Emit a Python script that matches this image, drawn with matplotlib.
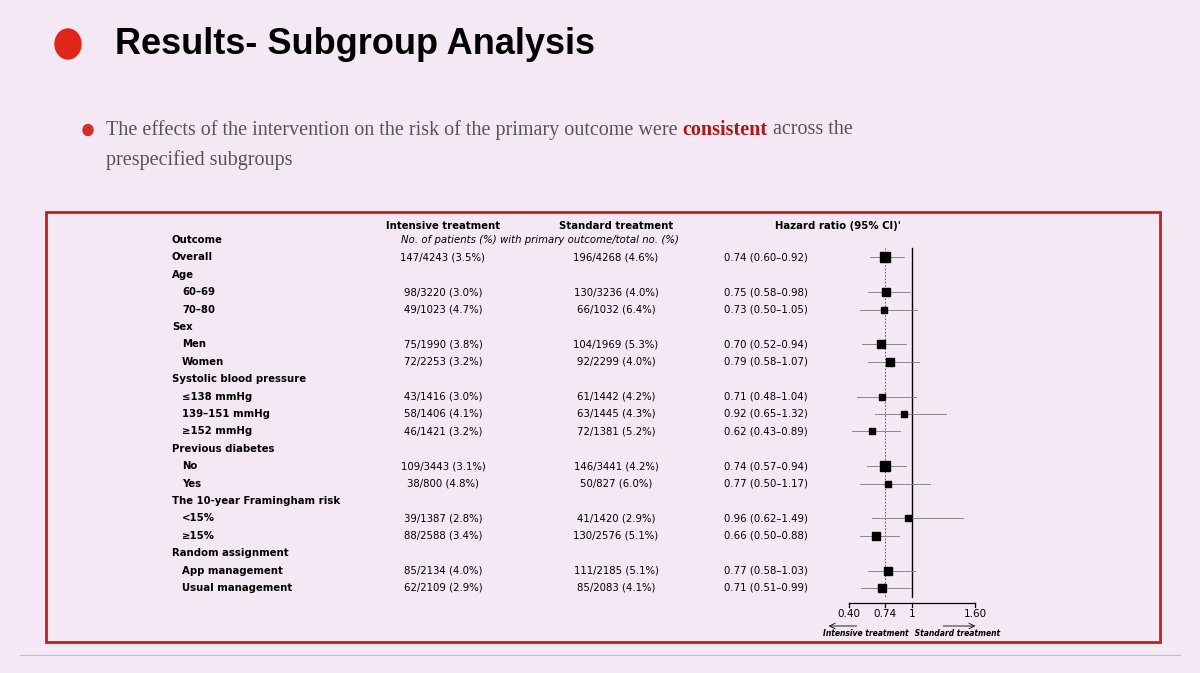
import matplotlib.pyplot as plt
import numpy as np
from matplotlib.patches import Rectangle, Ellipse

labels = ["Outcome","Overall","Age","60–69","70–80","Sex","Men","Women",
          "Systolic blood pressure","≤138 mmHg","139–151 mmHg","≥152 mmHg",
          "Previous diabetes","No","Yes","The 10-year Framingham risk","<15%","≥15%",
          "Random assignment","App management","Usual management"]
indent = [0,0,0,1,1,0,1,1,0,1,1,1,0,1,1,0,1,1,0,1,1]
intensive = ["","147/4243 (3.5%)","","98/3220 (3.0%)","49/1023 (4.7%)","","75/1990 (3.8%)","72/2253 (3.2%)",
             "","43/1416 (3.0%)","58/1406 (4.1%)","46/1421 (3.2%)","","109/3443 (3.1%)","38/800 (4.8%)",
             "","39/1387 (2.8%)","88/2588 (3.4%)","","85/2134 (4.0%)","62/2109 (2.9%)"]
standard = ["","196/4268 (4.6%)","","130/3236 (4.0%)","66/1032 (6.4%)","","104/1969 (5.3%)","92/2299 (4.0%)",
            "","61/1442 (4.2%)","63/1445 (4.3%)","72/1381 (5.2%)","","146/3441 (4.2%)","50/827 (6.0%)",
            "","41/1420 (2.9%)","130/2576 (5.1%)","","111/2185 (5.1%)","85/2083 (4.1%)"]
hr =  [None,0.74,None,0.75,0.73,None,0.70,0.79,None,0.71,0.92,0.62,None,0.74,0.77,None,0.96,0.66,None,0.77,0.71]
lo =  [None,0.60,None,0.58,0.50,None,0.52,0.58,None,0.48,0.65,0.43,None,0.57,0.50,None,0.62,0.50,None,0.58,0.51]
hi =  [None,0.92,None,0.98,1.05,None,0.94,1.07,None,1.04,1.32,0.89,None,0.94,1.17,None,1.49,0.88,None,1.03,0.99]
events = [None,343,None,228,115,None,179,164,None,104,121,118,None,255,88,None,80,218,None,196,147]

W, H = 1200, 673
fig = plt.figure(figsize=(12, 6.73), dpi=100)
fig.patch.set_facecolor('#f4e8f4')
ax = fig.add_axes([0,0,1,1]); ax.set_xlim(0,W); ax.set_ylim(H,0); ax.axis('off')
ax.add_patch(Ellipse((68,44),26,30,color='#e0261a'))
ax.text(115,44,"Results- Subgroup Analysis",fontsize=26,fontweight='bold',va='center',family='Liberation Sans')
ax.add_patch(Ellipse((88,130),10,11,color='#d03028'))

fig.canvas.draw()
r = fig.canvas.get_renderer()
x = 106
for txt, col, fw in [("The effects of the intervention on the risk of the primary outcome were ", '#555555', 'normal'),
                     ("consistent", '#b01515', 'bold'),
                     (" across the", '#555555', 'normal')]:
    t = ax.text(x,130,txt,fontsize=14.5,family='Liberation Serif',color=col,fontweight=fw,va='center')
    bb = t.get_window_extent(renderer=r)
    x += bb.width
ax.text(106,160,"prespecified subgroups",fontsize=14.5,family='Liberation Serif',color='#555555',va='center')
ax.add_patch(Rectangle((46,212),1114,430,fill=False,edgecolor='#c0201a',lw=2))
ax.plot([20,1180],[655,655],color='#c8b8c8',lw=0.8)

fs = 7.3
ax.text(443,226,"Intensive treatment",fontsize=fs,fontweight='bold',ha='center',va='center')
ax.text(616,226,"Standard treatment",fontsize=fs,fontweight='bold',ha='center',va='center')
ax.text(838,226,"Hazard ratio (95% CI)'",fontsize=fs,fontweight='bold',ha='center',va='center')
ax.text(540,240,"No. of patients (%) with primary outcome/total no. (%)",fontsize=fs,style='italic',ha='center',va='center')

y0, dy = 240, 17.4
ys = [y0 + i*dy for i in range(len(labels))]
for i, lab in enumerate(labels):
    y = ys[i]
    ax.text(172+10*indent[i], y, lab, fontsize=fs, fontweight='bold', va='center')
    ax.text(443, y, intensive[i], fontsize=fs, ha='center', va='center')
    ax.text(616, y, standard[i], fontsize=fs, ha='center', va='center')
    if hr[i] is not None:
        ax.text(724, y, f"{hr[i]:.2f} ({lo[i]:.2f}–{hi[i]:.2f})", fontsize=fs, va='center')

fx0, fx1 = 820, 1020
fa = fig.add_axes([fx0/W, 0, (fx1-fx0)/W, 1])
fa.set_ylim(H, 0)
v0 = 1 - 92/105; v1 = 1 + 108/105
fa.set_xlim(v0, v1)
fa.axis('off')
fa.plot([1,1],[248,597],color='black',lw=1)
fa.plot([0.74,0.74],[248,597],color='#444444',lw=0.6,ls=(0,(2,2)))
for i in range(len(labels)):
    if hr[i] is None: continue
    fa.plot([lo[i],hi[i]],[ys[i]]*2,color='#777777',lw=0.6)
    s = np.sqrt(events[i])*0.42
    fa.plot(hr[i],ys[i],marker='s',color='black',ms=s,mec='black')
fa.plot([0.40,1.60],[603,603],color='black',lw=0.9)
for t in [0.40,0.74,1,1.60]:
    fa.plot([t,t],[603,607],color='black',lw=0.9)
for t, s in [(0.40,"0.40"),(0.74,"0.74"),(1,"1"),(1.60,"1.60")]:
    fa.text(t,614,s,fontsize=7.5,ha='center',va='center')
fa.annotate("",xy=(0.18,626),xytext=(0.5,626),arrowprops=dict(arrowstyle='->',lw=0.6))
fa.annotate("",xy=(1.63,626),xytext=(1.27,626),arrowprops=dict(arrowstyle='->',lw=0.6))
fa.text(0.97,633,"Intensive treatment",fontsize=5.5,style='italic',fontweight='bold',ha='right',va='center')
fa.text(1.0,633," Standard treatment",fontsize=5.5,style='italic',fontweight='bold',ha='left',va='center')
fig.savefig("out.png",dpi=100,facecolor=fig.get_facecolor())
